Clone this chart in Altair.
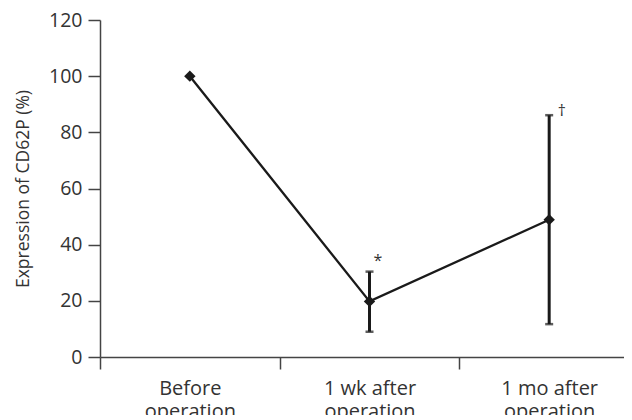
import json
import altair as alt
import pandas as pd

categories = ["Before\noperation", "1 wk after\noperation", "1 mo after\noperation"]
means = [100, 19.8, 48.9]
lower = [None, 9.0, 11.7]
upper = [None, 30.4, 86.1]
marks = ["", "*", "†"]
y_ticks = [0, 20, 40, 60, 80, 100, 120]

# category slot: each category occupies one unit interval, point drawn at its middle
slot = [i + 0.5 for i in range(len(categories))]

df = pd.DataFrame({"cat": categories, "pos": slot, "mean": means, "lo": lower, "hi": upper, "mark": marks})

FONT = "Open Sans"
TXT = "#333333"
INK = "#1a1a1a"
AX = "#444444"

W = 524
STEP = 179.67

label_expr = "split(" + json.dumps(categories) + "[datum.value], '\\n')"

x = alt.X(
    "pos:Q",
    scale=alt.Scale(domain=[0, W / STEP], nice=False, zero=False),
    axis=alt.Axis(
        title=None,
        values=list(range(len(categories))),
        labelExpr=label_expr,
        labelOffset=STEP / 2,
        labelLineHeight=23,
        labelAngle=0,
        labelAlign="center",
        labelFontSize=20,
        labelFont=FONT,
        labelColor=TXT,
        labelPadding=9,
        labelFlush=False,
        labelOverlap=False,
        tickSize=12,
        tickColor=AX,
        tickWidth=1.5,
        domainColor=AX,
        domainWidth=1.5,
        grid=False,
    ),
)

yscale = alt.Scale(domain=[0, 120], nice=False)
yaxis = alt.Axis(
    values=y_ticks,
    title="Expression of CD62P (%)",
    titleFont=FONT,
    titleFontSize=17.5,
    titleFontWeight="normal",
    titleColor=TXT,
    titlePadding=16,
    labelFont=FONT,
    labelFontSize=19.5,
    labelColor=TXT,
    labelPadding=6,
    tickSize=12,
    tickColor=AX,
    tickWidth=1.5,
    domainColor=AX,
    domainWidth=1.5,
    grid=False,
)

base = alt.Chart(df)

line = base.mark_line(color=INK, strokeWidth=2.3).encode(
    x=x, y=alt.Y("mean:Q", scale=yscale, axis=yaxis)
)
pts = base.mark_point(shape="diamond", filled=True, size=130, color=INK, opacity=1).encode(
    x=x, y=alt.Y("mean:Q", scale=yscale)
)
err = base.transform_filter("isValid(datum.lo)")
bars = err.mark_rule(color=INK, strokeWidth=3).encode(
    x=x, y=alt.Y("lo:Q", scale=yscale), y2="hi:Q"
)
cap_lo = err.mark_tick(color=INK, size=8, thickness=2.5, orient="horizontal").encode(
    x=x, y=alt.Y("lo:Q", scale=yscale)
)
cap_hi = err.mark_tick(color=INK, size=8, thickness=2.5, orient="horizontal").encode(
    x=x, y=alt.Y("hi:Q", scale=yscale)
)
star = base.transform_filter("datum.mark == '*'").mark_text(
    dx=8.5, dy=-6, baseline="alphabetic", align="center", fontSize=16, font=FONT, color=TXT
).encode(x=x, y=alt.Y("hi:Q", scale=yscale), text="mark:N")
dagger = base.transform_filter("datum.mark == '†'").mark_text(
    dx=12.7, dy=1, baseline="alphabetic", align="center", fontSize=16, font=FONT, color=TXT
).encode(x=x, y=alt.Y("hi:Q", scale=yscale), text="mark:N")

chart = (
    alt.layer(line, bars, cap_lo, cap_hi, pts, star, dagger)
    .properties(
        width=W,
        height=337,
        autosize="none",
        padding={"left": 92, "top": 12, "right": 0, "bottom": 58},
        background="white",
    )
    .configure_view(stroke=None)
)

chart.save("out.html", embed_options={"renderer": "svg", "actions": False})
